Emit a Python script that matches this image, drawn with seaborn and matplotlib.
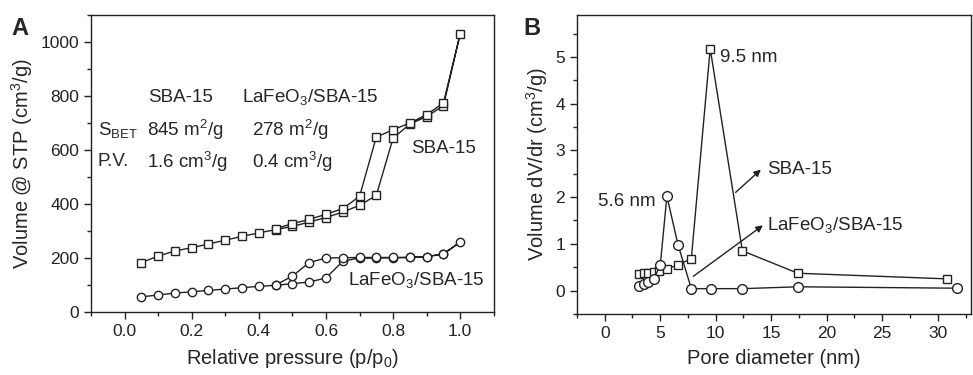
import numpy as np
import pandas as pd
import matplotlib
matplotlib.use("Agg")
import matplotlib.pyplot as plt
from matplotlib.ticker import MultipleLocator
import seaborn as sns

# Panel A: N2 isotherms (adsorption 0.05 -> 1.0, then desorption back to 0.45)
p_ads = [0.05, 0.10, 0.15, 0.20, 0.25, 0.30, 0.35, 0.40, 0.45, 0.50,
         0.55, 0.60, 0.65, 0.70, 0.75, 0.80, 0.85, 0.90, 0.95, 1.00]
p_des = [0.95, 0.90, 0.85, 0.80, 0.75, 0.70, 0.65, 0.60, 0.55, 0.50, 0.45]

sba_ads = [183, 207, 226, 238, 252, 266, 280, 293, 305, 317,
           333, 350, 370, 395, 432, 644, 696, 724, 764, 1031]
sba_des = [774, 731, 700, 675, 648, 428, 383, 362, 343, 327, 309]

lafe_ads = [56, 63, 70, 75, 80, 85, 90, 95, 99, 105,
            111, 126, 188, 200, 200, 201, 202, 205, 216, 259]
lafe_des = [214, 205, 202, 202, 202, 202, 201, 200, 183, 133, 100]

# Panel B: BJH pore size distribution
d_sba = [3.1, 3.5, 3.9, 4.4, 4.9, 5.6, 6.6, 7.8, 9.5, 12.4, 17.4, 30.8]
v_sba = [0.36, 0.37, 0.38, 0.40, 0.42, 0.46, 0.55, 0.68, 5.18, 0.85, 0.37, 0.25]
d_lafe = [3.05, 3.5, 3.9, 4.4, 5.0, 5.6, 6.6, 7.8, 9.6, 12.4, 17.4, 31.7]
v_lafe = [0.10, 0.14, 0.19, 0.24, 0.54, 2.02, 0.98, 0.04, 0.04, 0.04, 0.08, 0.05]

sns.set_style("ticks")
plt.rcParams['font.family'] = ['Liberation Sans', 'DejaVu Sans']
plt.rcParams['mathtext.fontset'] = 'custom'
plt.rcParams['mathtext.rm'] = 'Liberation Sans'
plt.rcParams['mathtext.it'] = 'Liberation Sans'

fig = plt.figure(figsize=(9.73, 3.75), dpi=100)
axA = fig.add_axes([0.0935, 0.168, 0.414, 0.792])
axB = fig.add_axes([0.593, 0.163, 0.405, 0.797])

line_kw = dict(color='#222222', linewidth=1.0, markerfacecolor='white',
               markeredgecolor='#222222', markeredgewidth=1.0)

sba_iso = pd.DataFrame({'p': p_ads + p_des, 'v': sba_ads + sba_des})
lafe_iso = pd.DataFrame({'p': p_ads + p_des, 'v': lafe_ads + lafe_des})
sns.lineplot(data=sba_iso, x='p', y='v', sort=False, estimator=None, ax=axA,
             marker='s', markersize=5.5, **line_kw)
sns.lineplot(data=lafe_iso, x='p', y='v', sort=False, estimator=None, ax=axA,
             marker='o', markersize=6, **line_kw)

sns.lineplot(x=d_sba, y=v_sba, sort=False, estimator=None, ax=axB,
             marker='s', markersize=5.5, **line_kw)
sns.lineplot(x=d_lafe, y=v_lafe, sort=False, estimator=None, ax=axB,
             marker='o', markersize=7, **line_kw)

fs = 13.5
# Panel A axes
axA.set_xlim(-0.1, 1.1)
axA.set_ylim(0, 1100)
axA.xaxis.set_major_locator(MultipleLocator(0.2))
axA.xaxis.set_minor_locator(MultipleLocator(0.1))
axA.yaxis.set_major_locator(MultipleLocator(200))
axA.yaxis.set_minor_locator(MultipleLocator(100))
axA.set_xlabel('Relative pressure (p/p$_0$)', fontsize=14.5, labelpad=6)
axA.set_ylabel('Volume @ STP (cm$^3$/g)', fontsize=14.5, labelpad=4)

axA.text(0.166, 796, 'SBA-15', ha='center', va='center', fontsize=fs)
axA.text(0.553, 796, 'LaFeO$_3$/SBA-15', ha='center', va='center', fontsize=fs)
axA.text(-0.08, 673, 'S$_{\\mathregular{BET}}$', ha='left', va='center', fontsize=fs)
axA.text(0.067, 673, '845 m$^2$/g', ha='left', va='center', fontsize=fs)
axA.text(0.379, 673, '278 m$^2$/g', ha='left', va='center', fontsize=fs)
axA.text(-0.08, 556, 'P.V.', ha='left', va='center', fontsize=fs)
axA.text(0.067, 556, '1.6 cm$^3$/g', ha='left', va='center', fontsize=fs)
axA.text(0.379, 556, '0.4 cm$^3$/g', ha='left', va='center', fontsize=fs)
axA.text(0.855, 605, 'SBA-15', ha='left', va='center', fontsize=fs)
axA.text(0.667, 117, 'LaFeO$_3$/SBA-15', ha='left', va='center', fontsize=fs)

# Panel B axes
axB.set_xlim(-2.5, 33)
axB.set_ylim(-0.5, 5.9)
axB.xaxis.set_major_locator(MultipleLocator(5))
axB.xaxis.set_minor_locator(MultipleLocator(2.5))
axB.yaxis.set_major_locator(MultipleLocator(1))
axB.yaxis.set_minor_locator(MultipleLocator(0.5))
axB.set_xlabel('Pore diameter (nm)', fontsize=14.5, labelpad=6)
axB.set_ylabel('Volume dV/dr (cm$^3$/g)', fontsize=14.5, labelpad=4)

axB.text(10.4, 5.0, '9.5 nm', ha='left', va='center', fontsize=fs)
axB.text(4.6, 1.9, '5.6 nm', ha='right', va='center', fontsize=fs)
arrow_kw = dict(arrowstyle='-|>', color='#222222', lw=1.0, mutation_scale=10)
axB.annotate('', xy=(14.25, 2.63), xytext=(11.6, 2.06), arrowprops=arrow_kw)
axB.annotate('', xy=(14.45, 1.43), xytext=(7.78, 0.27), arrowprops=arrow_kw)
axB.text(14.6, 2.6, 'SBA-15', ha='left', va='center', fontsize=fs)
axB.text(14.65, 1.41, 'LaFeO$_3$/SBA-15', ha='left', va='center', fontsize=fs)

for ax in (axA, axB):
    for s in ax.spines.values():
        s.set_color('#222222')
        s.set_linewidth(1.0)
    ax.tick_params(which='major', direction='out', length=5, width=1,
                   labelsize=12.5, colors='#222222')
    ax.tick_params(which='minor', direction='out', length=3, width=1,
                   colors='#222222')
    ax.tick_params(top=False, right=False, which='both')

fig.text(0.012, 0.925, 'A', fontsize=17, fontweight='bold', va='center')
fig.text(0.538, 0.925, 'B', fontsize=17, fontweight='bold', va='center')

fig.savefig('out.png', dpi=100)
